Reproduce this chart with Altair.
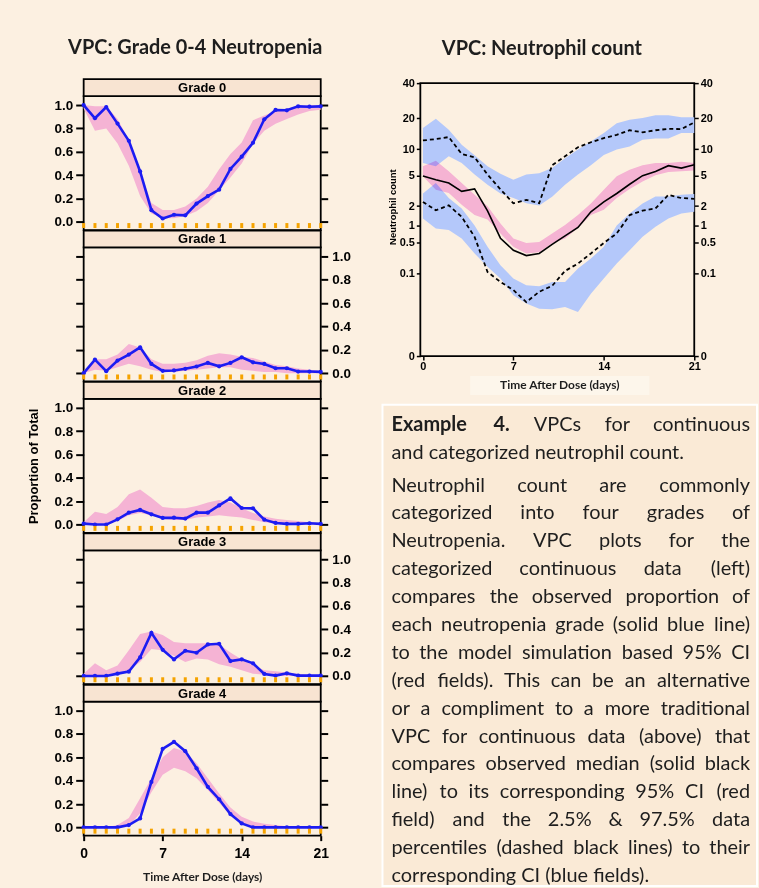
import altair as alt
import pandas as pd

# ---------------- data ----------------
DAYS = list(range(22))
GRADE_LABELS = ["Grade 0", "Grade 1", "Grade 2", "Grade 3", "Grade 4"]

G0_OBS = [1.0, 0.887, 0.983, 0.841, 0.694, 0.431, 0.099, 0.028, 0.06, 0.055, 0.156, 0.22, 0.275, 0.453, 0.558, 0.677, 0.878, 0.958, 0.955, 0.989, 0.986, 0.989]
G0_LO = [0.97, 0.78, 0.80, 0.67, 0.48, 0.22, 0.07, 0.03, 0.03, 0.05, 0.09, 0.16, 0.27, 0.38, 0.50, 0.67, 0.78, 0.84, 0.88, 0.92, 0.95, 0.96]
G0_HI = [1.0, 0.99, 0.99, 0.88, 0.70, 0.44, 0.16, 0.10, 0.10, 0.13, 0.20, 0.30, 0.45, 0.58, 0.68, 0.87, 0.91, 0.95, 0.97, 0.99, 1.0, 1.0]

G1_OBS = [0.0, 0.116, 0.017, 0.108, 0.159, 0.221, 0.079, 0.02, 0.023, 0.037, 0.057, 0.088, 0.059, 0.088, 0.136, 0.093, 0.079, 0.042, 0.042, 0.014, 0.014, 0.011]
G1_LO = [0.0, 0.03, 0.02, 0.05, 0.08, 0.06, 0.03, 0.01, 0.01, 0.02, 0.03, 0.04, 0.05, 0.05, 0.03, 0.02, 0.01, 0.01, 0.0, 0.0, 0.0, 0.0]
G1_HI = [0.02, 0.12, 0.12, 0.16, 0.25, 0.22, 0.12, 0.08, 0.08, 0.09, 0.11, 0.15, 0.17, 0.16, 0.14, 0.13, 0.10, 0.07, 0.06, 0.04, 0.03, 0.02]

G2_OBS = [0.008, 0.0, 0.0, 0.045, 0.102, 0.125, 0.088, 0.057, 0.059, 0.051, 0.102, 0.102, 0.164, 0.224, 0.142, 0.139, 0.042, 0.014, 0.006, 0.006, 0.011, 0.006]
G2_LO = [0.0, 0.01, 0.01, 0.03, 0.08, 0.10, 0.08, 0.05, 0.04, 0.04, 0.06, 0.07, 0.08, 0.07, 0.06, 0.04, 0.02, 0.01, 0.0, 0.0, 0.0, 0.0]
G2_HI = [0.02, 0.11, 0.09, 0.15, 0.26, 0.30, 0.23, 0.15, 0.14, 0.14, 0.16, 0.19, 0.21, 0.19, 0.14, 0.10, 0.07, 0.05, 0.04, 0.03, 0.02, 0.01]

G3_OBS = [0.0, 0.0, 0.0, 0.02, 0.037, 0.159, 0.369, 0.224, 0.142, 0.216, 0.199, 0.27, 0.276, 0.128, 0.142, 0.108, 0.017, 0.003, 0.023, 0.003, 0.003, 0.003]
G3_LO = [0.0, 0.01, 0.0, 0.02, 0.05, 0.12, 0.23, 0.22, 0.17, 0.12, 0.15, 0.14, 0.10, 0.08, 0.05, 0.02, 0.01, 0.0, 0.0, 0.0, 0.0, 0.0]
G3_HI = [0.02, 0.11, 0.05, 0.09, 0.22, 0.36, 0.38, 0.35, 0.29, 0.28, 0.28, 0.28, 0.27, 0.20, 0.14, 0.09, 0.05, 0.04, 0.03, 0.02, 0.01, 0.01]

G4_OBS = [0.0, 0.0, 0.0, 0.0, 0.02, 0.077, 0.389, 0.673, 0.733, 0.653, 0.506, 0.347, 0.241, 0.114, 0.034, 0.0, 0.0, 0.0, 0.0, 0.0, 0.0, 0.0]
G4_LO = [0.0, 0.0, 0.0, 0.0, 0.01, 0.12, 0.30, 0.45, 0.51, 0.48, 0.42, 0.32, 0.21, 0.10, 0.04, 0.01, 0.0, 0.0, 0.0, 0.0, 0.0, 0.0]
G4_HI = [0.0, 0.0, 0.0, 0.02, 0.08, 0.25, 0.42, 0.60, 0.68, 0.65, 0.55, 0.42, 0.29, 0.17, 0.09, 0.05, 0.03, 0.02, 0.01, 0.01, 0.01, 0.01]

GRADE_OBS = [G0_OBS, G1_OBS, G2_OBS, G3_OBS, G4_OBS]
GRADE_LO = [G0_LO, G1_LO, G2_LO, G3_LO, G4_LO]
GRADE_HI = [G0_HI, G1_HI, G2_HI, G3_HI, G4_HI]

MED_OBS = [5.0, 4.5, 4.1, 3.2, 3.45, 1.7, 0.6, 0.35, 0.27, 0.3, 0.46, 0.66, 0.93, 1.65, 2.3, 3.0, 3.95, 5.05, 5.65, 6.6, 6.2, 6.75]
MED_LO = [4.95, 3.36, 3.04, 2.09, 1.48, 1.25, 0.73, 0.41, 0.30, 0.32, 0.48, 0.59, 0.91, 1.47, 1.77, 2.6, 3.43, 4.29, 5.09, 5.57, 5.68, 5.8]
MED_HI = [6.5, 7.5, 5.68, 4.09, 2.88, 2.0, 1.08, 0.59, 0.49, 0.51, 0.73, 1.02, 1.47, 2.19, 3.36, 4.95, 5.93, 6.66, 7.09, 7.09, 7.3, 7.09]

P975_OBS = [12.3, 12.7, 13.3, 8.9, 8.2, 5.2, 3.4, 2.2, 2.45, 2.2, 6.7, 8.4, 10.5, 11.8, 13.0, 14.0, 15.5, 14.8, 15.5, 16.0, 15.9, 18.4]
P975_LO = [7.1, 6.5, 8.4, 7.1, 5.2, 3.9, 3.0, 2.6, 2.2, 2.05, 2.7, 3.9, 5.2, 6.7, 8.7, 9.9, 10.7, 12.5, 12.9, 12.9, 14.6, 14.6]
P975_HI = [16.3, 19.9, 15.7, 11.1, 8.6, 6.5, 5.3, 4.5, 5.2, 5.4, 6.2, 8.0, 9.9, 12.0, 14.6, 18.1, 19.5, 20.2, 21.4, 21.4, 20.5, 20.5]

P025_OBS = [2.3, 1.74, 2.05, 1.38, 0.635, 0.111, 0.059, 0.033, 0.012, 0.029, 0.045, 0.118, 0.179, 0.30, 0.49, 0.73, 1.47, 1.72, 1.85, 2.88, 2.6, 2.54]
P025_LO = [1.3, 0.89, 0.84, 0.594, 0.30, 0.149, 0.074, 0.022, 0.0105, 0.0063, 0.006, 0.0075, 0.0044, 0.025, 0.074, 0.179, 0.351, 0.635, 0.95, 1.30, 1.56, 1.65]
P025_HI = [3.0, 4.1, 2.6, 1.85, 1.0, 0.41, 0.164, 0.074, 0.047, 0.044, 0.059, 0.059, 0.136, 0.233, 0.41, 1.0, 1.56, 2.19, 2.74, 2.74, 2.88, 2.96]

Y_TICKS_LEFT = [0, 0.2, 0.4, 0.6, 0.8, 1.0]
X_TICKS = [0, 7, 14, 21]
Y_TICKS_RIGHT = [0, 0.1, 0.5, 1, 2, 5, 10, 20, 40]

LEFT_TITLE = "VPC: Grade 0-4 Neutropenia"
RIGHT_TITLE = "VPC: Neutrophil count"
X_TITLE = "Time After Dose (days)"
Y_TITLE_LEFT = "Proportion of Total"
Y_TITLE_RIGHT = "Neutrophil count"

CAPTION_LINES = [
    "Example 4. VPCs for continuous",
    "and categorized neutrophil count.",
    "Neutrophil count are commonly",
    "categorized into four grades of",
    "Neutropenia. VPC plots for the",
    "categorized continuous data (left)",
    "compares the observed proportion of",
    "each neutropenia grade (solid blue line)",
    "to the model simulation based 95% CI",
    "(red fields). This can be an alternative",
    "or a compliment to a more traditional",
    "VPC for continuous data (above) that",
    "compares observed median (solid black",
    "line) to its corresponding 95% CI (red",
    "field) and the 2.5% & 97.5% data",
    "percentiles (dashed black lines) to their",
    "corresponding CI (blue fields).",
]
PARA_ENDS = [1, 16]
BOLD_LEAD_WORDS = 2

# ---------------- style ----------------
BG = "#FCF0E1"
BOX_FILL = "#FAEAD6"
STRIP_FILL = "#F8E4D2"
XBOX_FILL = "#FDF6EB"
PINK = "#F5B3D4"
PINK_MULT = "#F8BEEF"
BLUE_LINE = "#1C1CF2"
BLUE_BAND = "#B4C8FA"
ORANGE = "#F5A300"
INK = "#1E1E1E"
AX_FONT = "Liberation Sans"
TX_FONT = "Lato"
TITLE_FS = 20

PW, PH = 238, 134.5
RW, RH = 275, 274
CW, CH = 338, 483


def grade_panel(g):
    df = pd.DataFrame({"t": DAYS, "obs": GRADE_OBS[g], "lo": GRADE_LO[g], "hi": GRADE_HI[g]})
    xs = alt.Scale(domain=[0, 21], nice=False, zero=False)
    ys = alt.Scale(domain=[-0.071, 1.077], nice=False, zero=False)
    if g == 4:
        xaxis = alt.Axis(values=X_TICKS, format="d", tickSize=5, tickWidth=2, tickColor="black",
                         labelFont=AX_FONT, labelFontSize=14, labelFontWeight="bold", labelColor="black",
                         labelPadding=5.5, labelFlush=False, domain=False, grid=False,
                         title=X_TITLE, titleFont=TX_FONT, titleFontSize=12, titleFontWeight="bold",
                         titleColor=INK, titlePadding=12)
        x = alt.X("t:Q", scale=xs, axis=xaxis)
    else:
        x = alt.X("t:Q", scale=xs, axis=None)

    left_kw = dict(orient="left", values=Y_TICKS_LEFT, format=".1f", tickSize=8, tickWidth=2,
                   tickColor="black", domain=False, grid=False, labels=(g % 2 == 0),
                   labelFont=AX_FONT, labelFontSize=13.5, labelFontWeight="bold", labelColor="black",
                   labelPadding=3, labelOverlap=False, labelFlush=False)
    if g == 2:
        left_kw.update(title=Y_TITLE_LEFT, titleFont=AX_FONT, titleFontSize=13,
                       titleFontWeight="bold", titleColor="black", titlePadding=14)
    else:
        left_kw.update(title=None)
    right_ax = alt.Axis(orient="right", values=Y_TICKS_LEFT, format=".1f", tickSize=7, tickWidth=2,
                        tickColor="black", domain=False, grid=False, labels=(g % 2 == 1),
                        labelFont=AX_FONT, labelFontSize=13.5, labelFontWeight="bold", labelColor="black",
                        labelPadding=4, labelOverlap=False, labelFlush=False, title=None)

    base = alt.Chart(df)
    band = base.mark_area(color=PINK, opacity=1).encode(
        x=x, y=alt.Y("lo:Q", scale=ys, axis=alt.Axis(**left_kw)), y2="hi:Q")
    line = base.mark_line(color=BLUE_LINE, strokeWidth=2.6).encode(
        x=x, y=alt.Y("obs:Q", scale=ys, axis=right_ax))
    pts = base.mark_circle(color=BLUE_LINE, size=18, opacity=1).encode(
        x=x, y=alt.Y("obs:Q", scale=ys, axis=None))
    rug = base.mark_tick(color=ORANGE, orient="vertical", thickness=3, size=5, opacity=1).encode(
        x=x, y=alt.value(PH - 4.5))

    sdf = pd.DataFrame({"label": [GRADE_LABELS[g]]})
    strip = alt.Chart(sdf).mark_rect(fill=STRIP_FILL, stroke="black", strokeWidth=1.8).encode(
        x=alt.value(0), x2=alt.value(PW), y=alt.value(-17), y2=alt.value(0))
    strip_txt = alt.Chart(sdf).mark_text(font=AX_FONT, fontSize=13, fontWeight="bold",
                                         color="black", baseline="middle", align="center").encode(
        x=alt.value(PW / 2), y=alt.value(-8), text="label:N")
    return alt.layer(band, line, pts, rug, strip, strip_txt).resolve_axis(y="independent").properties(
        width=PW, height=PH, view=alt.ViewBackground(stroke="black", strokeWidth=1.8))


# title rows (thin charts carrying the panel titles)
tl_df = pd.DataFrame({"title": [LEFT_TITLE]})
title_left = alt.layer(
    alt.Chart(tl_df).mark_text(font=TX_FONT, fontSize=TITLE_FS, fontWeight="bold", color=INK,
                               baseline="alphabetic", align="center").encode(
        x=alt.value(112), y=alt.value(-17.3), text="title:N"),
    alt.Chart(tl_df).mark_rect(opacity=0).encode(
        x=alt.value(-83), x2=alt.value(277), y=alt.value(0), y2=alt.value(1)),
).properties(width=PW, height=1, view=alt.ViewBackground(stroke="transparent"))

tr_df = pd.DataFrame({"title": [RIGHT_TITLE]})
title_right = alt.Chart(tr_df).mark_text(font=TX_FONT, fontSize=TITLE_FS, fontWeight="bold", color=INK,
                                         baseline="alphabetic", align="center").encode(
    x=alt.value(122), y=alt.value(-16.7), text="title:N"
).properties(width=RW, height=1, view=alt.ViewBackground(stroke="transparent"))

panels = alt.vconcat(*[grade_panel(g) for g in range(5)], spacing=17, bounds="flush")
left_col = alt.vconcat(title_left, panels, spacing=24, bounds="flush")

# ---------------- right chart ----------------
rdf = pd.DataFrame({"t": DAYS, "med": MED_OBS, "med_lo": MED_LO, "med_hi": MED_HI,
                    "p975": P975_OBS, "p975_lo": P975_LO, "p975_hi": P975_HI,
                    "p025": P025_OBS, "p025_lo": P025_LO, "p025_hi": P025_HI})
RX = alt.Scale(domain=[-0.2, 21], nice=False, zero=False)
RY = alt.Scale(type="pow", exponent=0.2, domain=[0, 40], nice=False)
rx = alt.X("t:Q", scale=RX, axis=alt.Axis(values=X_TICKS, format="d", tickSize=4, tickWidth=1.5,
                                          tickColor="black", labelFont=AX_FONT, labelFontSize=11,
                                          labelFontWeight="bold", labelColor="black", labelPadding=1,
                                          labelFlush=False, domain=False, grid=False, title=None))
r_left = alt.Axis(orient="left", values=Y_TICKS_RIGHT, format="~g", tickSize=4, tickWidth=1.5,
                  tickColor="black", domain=False, grid=False, labelFont=AX_FONT, labelFontSize=11,
                  labelFontWeight="bold", labelColor="black", labelPadding=2, labelOverlap=False,
                  labelFlush=False, title=Y_TITLE_RIGHT, titleFont=AX_FONT, titleFontSize=9.5,
                  titleFontWeight="bold", titleColor="black", titlePadding=2, titleY=124)
r_right = alt.Axis(orient="right", values=Y_TICKS_RIGHT, format="~g", tickSize=4, tickWidth=1.5,
                   tickColor="black", domain=False, grid=False, labelFont=AX_FONT, labelFontSize=11,
                   labelFontWeight="bold", labelColor="black", labelPadding=2, labelOverlap=False,
                   labelFlush=False, title=None)

rb = alt.Chart(rdf)
up_band = rb.mark_area(color=BLUE_BAND, opacity=1).encode(
    x=rx, y=alt.Y("p975_lo:Q", scale=RY, axis=r_left), y2="p975_hi:Q")
lo_band = rb.mark_area(color=BLUE_BAND, opacity=1).encode(
    x=rx, y=alt.Y("p025_lo:Q", scale=RY, axis=None), y2="p025_hi:Q")
med_band = rb.mark_area(color=PINK_MULT, opacity=1, blend="multiply").encode(
    x=rx, y=alt.Y("med_lo:Q", scale=RY, axis=None), y2="med_hi:Q")
med_line = rb.mark_line(color="black", strokeWidth=1.6).encode(
    x=rx, y=alt.Y("med:Q", scale=RY, axis=r_right))
p975_line = rb.mark_line(color="black", strokeWidth=1.8, strokeDash=[4, 3]).encode(
    x=rx, y=alt.Y("p975:Q", scale=RY, axis=None))
p025_line = rb.mark_line(color="black", strokeWidth=1.8, strokeDash=[4, 3]).encode(
    x=rx, y=alt.Y("p025:Q", scale=RY, axis=None))

tdf = pd.DataFrame({"xtitle": [X_TITLE]})
xt_box = alt.Chart(tdf).mark_rect(fill=XBOX_FILL).encode(
    x=alt.value(50), x2=alt.value(230), y=alt.value(294), y2=alt.value(313))
xt_txt = alt.Chart(tdf).mark_text(font=TX_FONT, fontSize=12, fontWeight="bold", color=INK,
                                  baseline="alphabetic", align="center").encode(
    x=alt.value(140), y=alt.value(307.3), text="xtitle:N")

right_chart = alt.layer(up_band, lo_band, med_band, med_line, p975_line, p025_line,
                        xt_box, xt_txt).resolve_axis(y="independent").properties(
    width=RW, height=RH, view=alt.ViewBackground(stroke="black", strokeWidth=1.8))

# ---------------- caption (justified text) ----------------
CHAR_W = {
    'a': .51, 'b': .56, 'c': .46, 'd': .56, 'e': .53, 'f': .32, 'g': .50, 'h': .56, 'i': .24,
    'j': .24, 'k': .50, 'l': .24, 'm': .85, 'n': .56, 'o': .56, 'p': .56, 'q': .56, 'r': .37,
    's': .42, 't': .35, 'u': .56, 'v': .50, 'w': .76, 'x': .49, 'y': .50, 'z': .45,
    'C': .66, 'E': .55, 'I': .29, 'N': .75, 'P': .60, 'T': .58, 'V': .68,
    '.': .21, ',': .21, '(': .30, ')': .30, '%': .78, '&': .70, ' ': .19,
}
FS = 20
TX0, TX1 = -29, 331
TOP, LH, PGAP = 26.5, 28.0, 4.5


def word_w(w, bold):
    s = sum(CHAR_W.get(c, .58) for c in w) * FS
    return s * 1.05 if bold else s


rows = []
for i, line in enumerate(CAPTION_LINES):
    y = TOP + i * LH + (PGAP if i >= 2 else 0)
    if i in PARA_ENDS:
        rows.append(dict(x=TX0, y=y, text=line, align="left", weight="normal"))
        continue
    words = line.split(" ")
    bold = [(i == 0 and j < BOLD_LEAD_WORDS) for j in range(len(words))]
    widths = [word_w(w, b) for w, b in zip(words, bold)]
    gap = (TX1 - TX0 - sum(widths)) / (len(words) - 1)
    pos = TX0
    for j, (w, wd, b) in enumerate(zip(words, widths, bold)):
        wt = "bold" if b else "normal"
        if j == 0:
            rows.append(dict(x=pos, y=y, text=w, align="left", weight=wt))
        elif j == len(words) - 1:
            rows.append(dict(x=TX1, y=y, text=w, align="right", weight=wt))
        else:
            rows.append(dict(x=pos + wd / 2, y=y, text=w, align="center", weight=wt))
        pos += wd + gap
words_df = pd.DataFrame(rows)

box = alt.Chart(pd.DataFrame({"k": [0]})).mark_rect(fill=BOX_FILL, stroke="white", strokeWidth=2).encode(
    x=alt.value(-38), x2=alt.value(CW), y=alt.value(0), y2=alt.value(CH))
cap_layers = [box]
for al in ["left", "center", "right"]:
    for wt in ["normal", "bold"]:
        sub = words_df[(words_df["align"] == al) & (words_df["weight"] == wt)]
        if len(sub) == 0:
            continue
        cap_layers.append(
            alt.Chart(sub).mark_text(font=TX_FONT, fontSize=FS, fontWeight=wt, align=al,
                                     baseline="alphabetic", color=INK).encode(
                x=alt.X("x:Q", scale=None, axis=None),
                y=alt.Y("y:Q", scale=None, axis=None),
                text="text:N"))
caption = alt.layer(*cap_layers).properties(
    width=CW, height=CH, view=alt.ViewBackground(stroke="transparent"))

right_body = alt.vconcat(right_chart, caption, spacing=49, bounds="flush")
right_col = alt.vconcat(title_right, right_body, spacing=11, bounds="flush")

chart = alt.hconcat(left_col, right_col, spacing=20, bounds="full").properties(
    padding={"left": 0, "top": 35.7, "right": 0, "bottom": 0}
).configure(background=BG)

chart.save("out.html", embed_options={"renderer": "svg", "actions": False})
